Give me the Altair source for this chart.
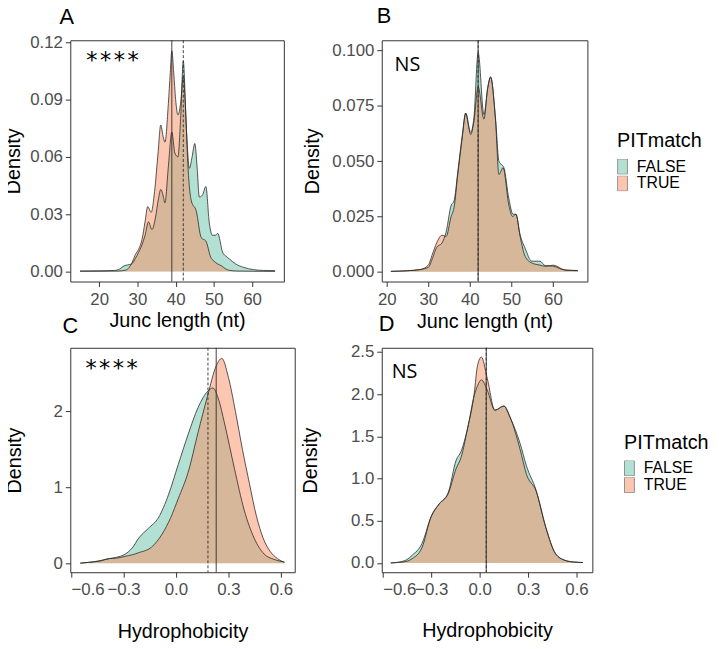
import altair as alt
import pandas as pd

GROUPS = ["FALSE", "TRUE"]
COLORS = ["#66C2A5", "#FC8D62"]

# ---- Panel A: Junc length, PIT-matched vs not (density) ----
xA_false = [15, 20, 24, 25.5, 26.5, 27.5, 28.5, 29.5, 30.3, 31.2, 32.0, 32.9, 33.8, 34.7, 35.5, 36.1, 36.7, 37.2,
            38.1, 39.0, 39.8, 40.6, 41.3, 42.0, 42.8, 43.6, 44.3, 45.0, 45.6, 46.2, 47.0, 47.9, 48.8, 49.6, 50.4,
            51.0, 52.3, 53.2, 54.0, 55.7, 57.8, 60.4, 63, 66]
yA_false = [0.0003, 0.0004, 0.0006, 0.0015, 0.003, 0.0035, 0.004, 0.007, 0.010, 0.014, 0.019, 0.026, 0.022, 0.028,
            0.038, 0.043, 0.040, 0.036, 0.055, 0.073, 0.062, 0.060, 0.080, 0.110, 0.075, 0.054, 0.060, 0.067, 0.055,
            0.039, 0.040, 0.0445, 0.0255, 0.019, 0.019, 0.020, 0.010, 0.008, 0.0067, 0.004, 0.0022, 0.001, 0.0006,
            0.0005]
xA_true = [15, 20, 25, 27.0, 27.8, 28.6, 29.5, 30.3, 31.2, 32.0, 32.7, 33.6, 34.5, 35.4, 36.1, 36.7, 37.2, 38.1,
           38.6, 39.0, 39.5, 40.0, 40.6, 41.3, 42.0, 42.6, 43.2, 44.1, 45.4, 46.7, 47.9, 49.2, 50.0, 51.0, 52.0,
           53.0, 54.0, 56, 60, 66]
yA_true = [0.0002, 0.0002, 0.0003, 0.0008, 0.002, 0.0047, 0.009, 0.0116, 0.0168, 0.026, 0.034, 0.031, 0.042, 0.062,
           0.0767, 0.071, 0.0677, 0.088, 0.104, 0.1155, 0.104, 0.090, 0.082, 0.088, 0.102, 0.085, 0.056, 0.037,
           0.0316, 0.0177, 0.016, 0.0074, 0.0055, 0.004, 0.003, 0.0015, 0.0007, 0.0003, 0.0002, 0.0001]
medA = {"FALSE": 42.0, "TRUE": 39.0}

# ---- Panel B ----
xB_false = [21, 25, 28, 30.0, 31.0, 32.0, 33.3, 34.3, 35.5, 36.2, 37.1, 38.2, 39.0, 40.2, 41.0, 42.0, 43.4, 44.3,
            45.0, 46.2, 47.0, 48.2, 49.4, 50.4, 51.1, 52.1, 53.3, 54.9, 56.9, 58.1, 60.1, 62.9, 66]
yB_false = [0.0002, 0.0005, 0.001, 0.002, 0.006, 0.011, 0.013, 0.018, 0.030, 0.032, 0.045, 0.062, 0.0717, 0.063,
            0.070, 0.099, 0.071, 0.083, 0.088, 0.069, 0.050, 0.047, 0.033, 0.026, 0.026, 0.0167, 0.0107, 0.0048,
            0.0048, 0.0028, 0.0025, 0.0008, 0.0006]
xB_true = [21, 25, 28, 30.0, 31.0, 32.0, 33.3, 34.3, 35.5, 36.2, 37.1, 38.2, 39.0, 40.2, 41.0, 42.0, 43.4, 44.3,
           45.0, 46.2, 47.0, 48.0, 49.4, 50.3, 51.1, 52.1, 53.3, 54.9, 56.9, 58.1, 60.1, 62.9, 66]
yB_true = [0.0002, 0.0005, 0.001, 0.003, 0.008, 0.013, 0.0165, 0.016, 0.025, 0.029, 0.044, 0.061, 0.0717, 0.062,
           0.068, 0.0836, 0.069, 0.083, 0.088, 0.068, 0.044, 0.047, 0.030, 0.025, 0.026, 0.016, 0.007, 0.004,
           0.003, 0.0025, 0.003, 0.0008, 0.0005]
medB = {"FALSE": 42.0, "TRUE": 42.0}

# ---- Panel C: Hydrophobicity ----
xC_false = [-0.547, -0.50, -0.44, -0.38, -0.345, -0.289, -0.25, -0.213, -0.157, -0.1, -0.043, 0.013, 0.07, 0.126,
            0.183, 0.211, 0.245, 0.277, 0.334, 0.39, 0.447, 0.504, 0.56, 0.62]
yC_false = [0.0, 0.01, 0.03, 0.06, 0.075, 0.12, 0.2, 0.33, 0.46, 0.6, 0.9, 1.3, 1.7, 2.05, 2.27, 2.31, 2.15, 1.85,
            1.25, 0.7, 0.33, 0.12, 0.05, 0.015]
xC_true = [-0.547, -0.50, -0.44, -0.38, -0.34, -0.29, -0.25, -0.21, -0.14, -0.08, -0.03, 0.013, 0.07, 0.126, 0.18,
           0.23, 0.262, 0.30, 0.34, 0.38, 0.42, 0.46, 0.50, 0.54, 0.58, 0.62]
yC_true = [0.0, 0.01, 0.025, 0.06, 0.065, 0.09, 0.11, 0.14, 0.21, 0.38, 0.6, 0.85, 1.2, 1.72, 2.2, 2.6, 2.70, 2.45,
           2.0, 1.5, 1.05, 0.62, 0.32, 0.15, 0.06, 0.01]
medC = {"FALSE": 0.183, "TRUE": 0.230}

# ---- Panel D ----
xD = [-0.55, -0.5, -0.45, -0.418, -0.357, -0.3, -0.25, -0.195, -0.145, -0.115, -0.074, -0.034, -0.013, 0.011,
      0.047, 0.095, 0.15, 0.19, 0.25, 0.29, 0.35, 0.41, 0.47, 0.53, 0.58, 0.64]
yD_false = [0.0, 0.01, 0.04, 0.09, 0.23, 0.55, 0.70, 0.83, 1.22, 1.32, 1.6, 1.98, 2.1, 2.17, 2.05, 1.81, 1.86,
            1.72, 1.42, 1.15, 0.86, 0.42, 0.11, 0.03, 0.012, 0.005]
yD_true = [0.0, 0.006, 0.02, 0.05, 0.18, 0.55, 0.70, 0.82, 1.12, 1.25, 1.6, 2.0, 2.34, 2.44, 2.19, 1.81, 1.86,
           1.72, 1.35, 1.05, 0.85, 0.42, 0.11, 0.03, 0.012, 0.005]
medD = {"FALSE": 0.041, "TRUE": 0.041}

FONT = "Liberation Sans"
RECT = "M-1,-0.97H0.25V0.97H-1Z"


def dens(xf, yf, xt, yt):
    return pd.DataFrame({
        "x": list(xf) + list(xt),
        "y": list(yf) + list(yt),
        "PITmatch": ["FALSE"] * len(xf) + ["TRUE"] * len(xt),
    })


def panel(df, med, xdom, ydom, xvals, yvals, xfmt, yfmt, xtitle, xpad, ypad, w, h,
          label, ldx, ldy, annot, afont, asize, ax, ay, legend, dashed_last):
    xenc = alt.X("x:Q", scale=alt.Scale(domain=xdom, nice=False, zero=False),
                 axis=alt.Axis(values=xvals, format=xfmt, title=xtitle, titlePadding=xpad,
                               minExtent=20, maxExtent=20, labelOverlap=False))
    yenc = alt.Y("y:Q", stack=None, scale=alt.Scale(domain=ydom, nice=False, zero=False),
                 axis=alt.Axis(values=yvals, format=yfmt, title="Density", titlePadding=ypad,
                               minExtent=30, maxExtent=30, labelOverlap=False))
    fill = alt.Fill("PITmatch:N", scale=alt.Scale(domain=GROUPS, range=COLORS), legend=legend)
    area = alt.Chart(df).mark_area(fillOpacity=0.5, interpolate="monotone").encode(
        x=xenc, y=yenc, fill=fill)
    line = alt.Chart(df).mark_line(interpolate="monotone", color="#2b2b2b", strokeWidth=0.8).encode(
        x="x:Q", y="y:Q", detail="PITmatch:N")
    mdf_t = pd.DataFrame({"x": [med["TRUE"]]})
    mdf_f = pd.DataFrame({"x": [med["FALSE"]]})
    solid = alt.Chart(mdf_t).mark_rule(color="#2b2b2b", strokeWidth=0.9).encode(x="x:Q")
    dashed = alt.Chart(mdf_f).mark_rule(color="#2b2b2b", strokeWidth=0.9, strokeDash=[3, 2]).encode(x="x:Q")
    txt = alt.Chart(pd.DataFrame({"t": [annot]})).mark_text(
        font=afont, fontSize=asize, align="left", baseline="alphabetic", color="black").encode(
        text="t:N", x=alt.value(ax), y=alt.value(ay))
    rules = [dashed, solid] if not dashed_last else [solid, dashed]
    return alt.layer(area, line, *rules, txt).properties(
        width=w, height=h,
        title=alt.TitleParams(label, anchor="start", frame="group", dx=ldx, dy=ldy, offset=0,
                              fontSize=22, font=FONT, fontWeight="normal", color="black",
                              baseline="alphabetic"))


def legend_at(lx, ly):
    return alt.Legend(title="PITmatch", orient="none", legendX=lx, legendY=ly, padding=0,
                      symbolType=RECT, symbolSize=256, symbolOpacity=0.5,
                      symbolStrokeColor="#222222", symbolStrokeWidth=1,
                      labelFontSize=16, labelFont=FONT, labelColor="black", labelOffset=3,
                      titleFontSize=20, titleFont=FONT, titleFontWeight="normal", titleColor="black",
                      titlePadding=8, rowPadding=0, clipHeight=15.5)


A = panel(dens(xA_false, yA_false, xA_true, yA_true), medA, [12.45, 68.3], [-0.0052, 0.121],
          [20, 30, 40, 50, 60], [0, 0.03, 0.06, 0.09, 0.12], "d", ".2f", "Junc length (nt)", 9.5, 17.7,
          216, 244, "A", -11, 13, "****", "DejaVu Sans Mono", 23, 15, 28, None, False)
B = panel(dens(xB_false, yB_false, xB_true, yB_true), medB, [18.8, 68.3], [-0.0044, 0.1046],
          [20, 30, 40, 50, 60], [0, 0.025, 0.05, 0.075, 0.1], "d", ".3f", "Junc length (nt)", 10, 30,
          208, 244, "B", -5, 4.7, "NS", "Open Sans", 20, 13, 31, legend_at(238, 92), False)
C = panel(dens(xC_false, yC_false, xC_true, yC_true), medC, [-0.604, 0.679], [-0.12, 2.84],
          [-0.6, -0.3, 0.0, 0.3, 0.6], [0, 1, 2], ".1f", "d", "Hydrophobicity", 30, 16,
          227, 227, "C", -8, 7, "****", "DejaVu Sans Mono", 23, 14, 29, None, False)
D = panel(dens(xD, yD_false, xD, yD_true), medD, [-0.606, 0.698], [-0.11, 2.55],
          [-0.6, -0.3, 0.0, 0.3, 0.6], [0, 0.5, 1.0, 1.5, 2.0, 2.5], ".1f", ".1f", "Hydrophobicity", 29, 31.7,
          213, 227, "D", -3, 9.5, "NS", "Open Sans", 20, 10, 31, legend_at(245, 86), True)

chart = alt.concat(A, B, C, D, columns=2).properties(
    spacing={"row": 67, "column": 88}, bounds="flush", align="all",
    padding={"left": 63, "top": 29, "right": 648, "bottom": 612},
    autosize=alt.AutoSizeParams(type="none"),
).resolve_scale(fill="independent").resolve_legend(fill="independent").configure_view(
    stroke="#333333", strokeWidth=1
).configure_axis(
    domain=False, grid=False, tickColor="#333333", tickWidth=1, tickSize=5,
    labelFont=FONT, labelFontSize=17, labelColor="#4D4D4D", labelPadding=3,
    titleFont=FONT, titleFontSize=20, titleFontWeight="normal", titleColor="black",
).configure_axisX(labelPadding=5)

chart.save("out.html", embed_options={"renderer": "svg", "actions": False})
